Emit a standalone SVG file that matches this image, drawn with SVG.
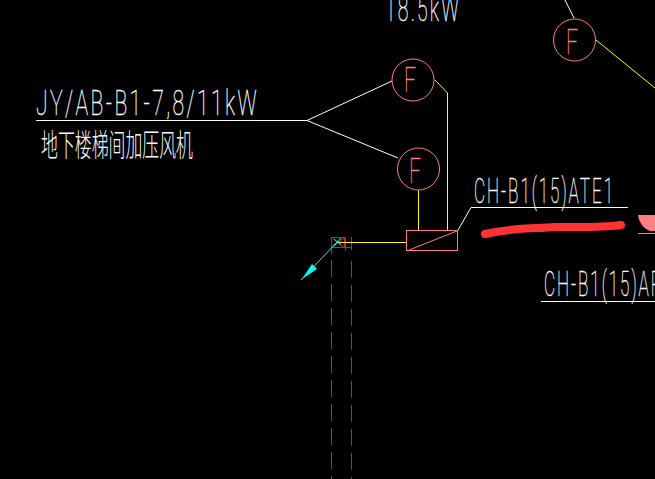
<svg xmlns="http://www.w3.org/2000/svg" width="655" height="479" viewBox="0 0 655 479">
<style>
.w{fill:none;stroke:#fff;stroke-width:1}
.y{fill:none;stroke:#ff0;stroke-width:1}
.p{fill:none;stroke:#ff7f7f;stroke-width:1}
.r{fill:none;stroke:#e0104a;stroke-width:1}
.t{font-family:Roboto,"Liberation Sans",sans-serif;fill:#fff;font-weight:100;font-size:35px;letter-spacing:4px;stroke:#fff;stroke-width:.4;opacity:.99}
.c{font-family:"Noto Sans CJK SC",sans-serif;fill:#fff;font-weight:300;font-size:31px;opacity:.99}
.f{font-family:Roboto,"Liberation Sans",sans-serif;fill:#ff7f7f;font-weight:100;font-size:35px;stroke:#ff7f7f;stroke-width:.4;opacity:.99}
</style>
<rect width="655" height="479" fill="#000"/>
<g id="connectors">
<path class="w" d="M36 120.500H307M307 120.500L392 81M307 120.500L398 158"/>
<path class="w" d="M458 230L471 207.500H628"/>
<path class="w" d="M541 301.500H655"/>
<path class="w" d="M565 0L574 18"/>
<path class="y" d="M435 80L447.500 93V230M418.500 190V230M338 242.500H406M596 40L655 88"/>
</g>
<g id="fan1"><circle class="p" cx="413" cy="80" r="21"/><text class="f" x="404" y="92" textLength="12" lengthAdjust="spacingAndGlyphs">F</text></g>
<g id="fan2"><circle class="p" cx="418.500" cy="169" r="21"/><text class="f" x="409" y="183" textLength="12" lengthAdjust="spacingAndGlyphs">F</text></g>
<g id="fan3"><circle class="p" cx="574.500" cy="40" r="21"/><text class="f" x="566" y="54" textLength="12" lengthAdjust="spacingAndGlyphs">F</text></g>
<g id="box"><rect class="p" x="406.500" y="230.500" width="51" height="20"/><path class="p" d="M409 250L457 231"/></g>
<g id="terminal">
<rect class="r" x="331.500" y="237.500" width="13" height="10"/>
<path class="r" d="M331.500 237.500L344.500 247.500M344.500 237.500L331.500 247.500M331.500 247.500H351.500M351.500 237V250M345.500 237V251M331.500 247V254"/>
<path d="M334 239L341 245M341 238L334 246M338 241L301 280" fill="none" stroke="#0ff"/>
<path d="M302 279L312 264L317 269Z" fill="#0ff"/>
<path class="y" d="M338 242.500H352"/>
</g>
<g id="shaft">
<path class="r" d="M331.500 260V479" stroke-dasharray="17 7"/>
<path class="r" d="M351.500 261V479" stroke-dasharray="17 7"/>
</g>
<g id="labels">
<text class="t" x="385" y="21" textLength="76" lengthAdjust="spacingAndGlyphs">18.5kW</text>
<text class="t" x="36" y="115" textLength="223" lengthAdjust="spacingAndGlyphs">JY/AB-B1-7,8/11kW</text>
<text class="c" x="41" y="156" textLength="152" lengthAdjust="spacingAndGlyphs">地下楼梯间加压风机</text>
<text class="t" x="474" y="203" textLength="141" lengthAdjust="spacingAndGlyphs">CH-B1(15)ATE1</text>
<text class="t" x="544" y="296" textLength="119" lengthAdjust="spacingAndGlyphs">CH-B1(15)AP</text>
</g>
<path id="mark" d="M485 234C515 227 535 229 555 227C575 227 600 228 621 225" fill="none" stroke="#ff3333" stroke-width="8" stroke-linecap="round"/>
<path id="blob" d="M638 215H655V231H650C644 229 639 223 638 215Z" fill="#ff8080"/>
<path d="M638 233.500H655" stroke="#ff7f7f" fill="none"/>
</svg>
